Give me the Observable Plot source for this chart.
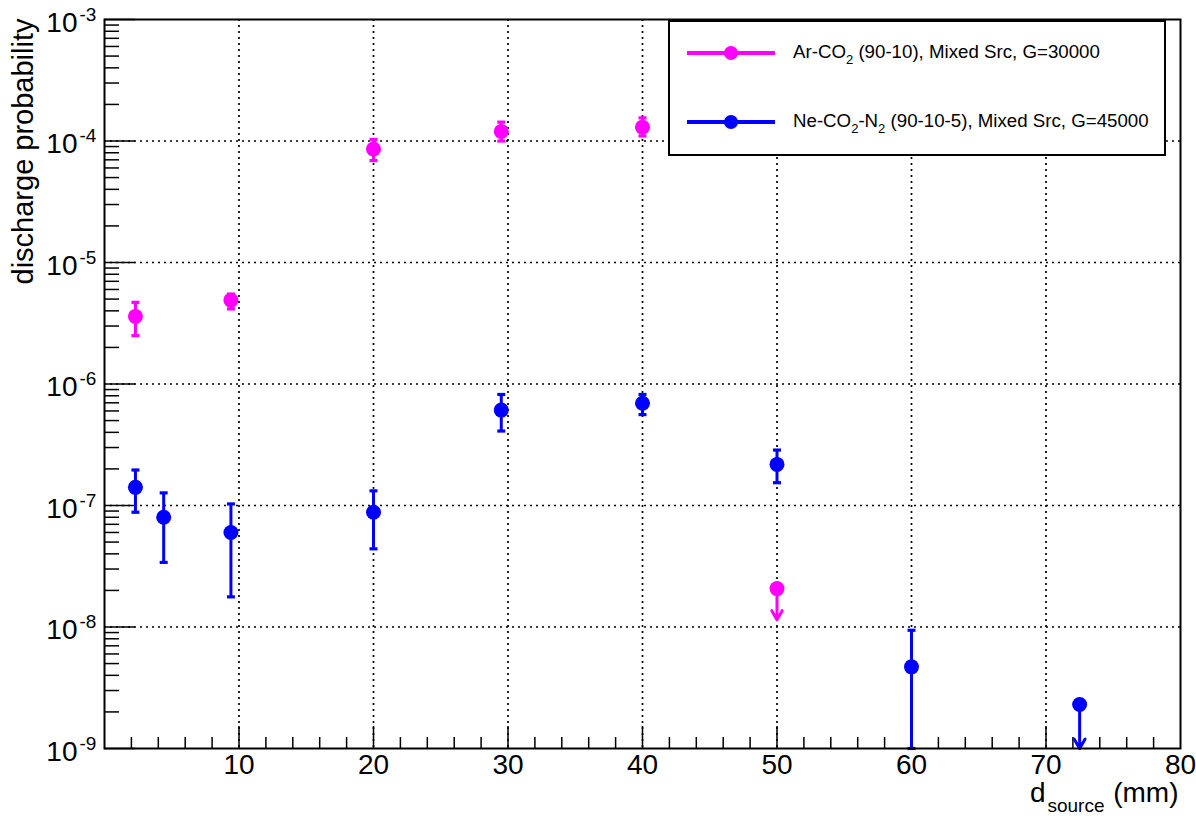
<!DOCTYPE html>
<html><head><meta charset="utf-8">
<script src="https://cdn.jsdelivr.net/npm/d3@7"></script>
<script src="https://cdn.jsdelivr.net/npm/@observablehq/plot@0.6"></script>
<style>
body{margin:0;background:#fff;font-family:"Liberation Sans",Arial,Helvetica,sans-serif;}
#wrap{position:relative;width:1196px;height:816px;}
.legend{position:absolute;left:668px;top:20px;width:498px;height:136px;box-sizing:border-box;border:2px solid #000;background:#fff;}
.lsym{position:absolute;}
.ltxt{position:absolute;font-size:18.7px;line-height:24px;white-space:nowrap;color:#000;}
.ltxt sub{font-size:13px;vertical-align:baseline;position:relative;top:6px;}
</style></head><body><div id="wrap"></div>
<script>
// ---- data ----
const seriesColors = ["#ff00ff", "#0000ff"];
const legendParts = [
  ["Ar-CO", "2", " (90-10), Mixed Src, G=30000"],
  ["Ne-CO", "2", "-N", "2", " (90-10-5), Mixed Src, G=45000"]
];
// Ar-CO2 series
const arX  = [2.3, 9.4, 20, 29.5, 40];
const arY  = [3.6e-6, 4.9e-6, 8.6e-5, 1.2e-4, 1.3e-4];
const arHi = [4.7e-6, 5.5e-6, 1.03e-4, 1.43e-4, 1.55e-4];
const arLo = [2.5e-6, 4.15e-6, 6.9e-5, 1.0e-4, 1.1e-4];
const arLimX = [50], arLimY = [2.07e-8], arLimTo = [1.15e-8];
// Ne-CO2-N2 series
const neX  = [2.3, 4.4, 9.4, 20, 29.5, 40, 50, 60];
const neY  = [1.41e-7, 8.0e-8, 6.0e-8, 8.8e-8, 6.1e-7, 6.95e-7, 2.18e-7, 4.7e-9];
const neHi = [1.96e-7, 1.27e-7, 1.03e-7, 1.32e-7, 8.2e-7, 8.2e-7, 2.86e-7, 9.4e-9];
const neLo = [8.8e-8, 3.4e-8, 1.77e-8, 4.4e-8, 4.1e-7, 5.6e-7, 1.54e-7, 1e-9];
const neLimX = [72.5], neLimY = [2.3e-9], neLimTo = [1e-9];
// axes
const xDomain = [0, 80];
const yDomain = [1e-9, 1e-3];
const xLabels = [10, 20, 30, 40, 50, 60, 70, 80];
const yExponents = [-9, -8, -7, -6, -5, -4, -3];
const yTitle = "discharge probability";
const xTitleParts = ["d", "source", "(mm)"];

// ---- build ----
const W = 1196, H = 816, mL = 104, mR = 16, mT = 19, mB = 68;
const fw = W - mL - mR, fh = H - mT - mB;
const font = '"Liberation Sans", Arial, Helvetica, sans-serif';

const pts = [], lims = [];
arX.forEach((x, i) => pts.push({s: 0, x, y: arY[i], lo: arLo[i], hi: arHi[i]}));
neX.forEach((x, i) => pts.push({s: 1, x, y: neY[i], lo: neLo[i], hi: neHi[i]}));
arLimX.forEach((x, i) => lims.push({s: 0, x, y: arLimY[i], to: arLimTo[i]}));
neLimX.forEach((x, i) => lims.push({s: 1, x, y: neLimY[i], to: neLimTo[i]}));
const col = d => seriesColors[d.s];

const decades = yExponents.map(e => Math.pow(10, e));
const gridY = decades.filter(v => v > yDomain[0] * 1.5 && v < yDomain[1] / 1.5);
const yMinor = [];
yExponents.slice(0, -1).forEach(e => { for (let k = 2; k <= 9; k++) yMinor.push(k * Math.pow(10, e)); });
const xMajor = xLabels.filter(v => v < xDomain[1]);
const xMinor = d3.range(2, xDomain[1], 2).filter(v => v % 10 !== 0);

const capSym = {draw(ctx) { ctx.moveTo(-4, -1.6); ctx.lineTo(4, -1.6); ctx.lineTo(4, 1.6); ctx.lineTo(-4, 1.6); ctx.closePath(); }};

const chart = Plot.plot({
  width: W, height: H,
  marginLeft: mL, marginRight: mR, marginTop: mT, marginBottom: mB,
  x: {domain: xDomain, axis: null},
  y: {type: "log", domain: yDomain, axis: null},
  color: {type: "identity"},
  style: {fontFamily: font, background: "white", overflow: "visible", color: "black"},
  marks: [
    Plot.ruleX(xMajor, {x: d => d, stroke: "#000", strokeWidth: 1.7, strokeDasharray: "2,4"}),
    Plot.ruleY(gridY, {y: d => d, stroke: "#000", strokeWidth: 1.7, strokeDasharray: "2,4"}),
    Plot.ruleX(xMinor, {x: d => d, insetTop: fh - 11, stroke: "#000", strokeWidth: 1.5}),
    Plot.ruleX(xMajor, {x: d => d, insetTop: fh - 22, stroke: "#000", strokeWidth: 1.5}),
    Plot.ruleY(yMinor, {y: d => d, insetRight: fw - 15, stroke: "#000", strokeWidth: 1.5}),
    Plot.ruleY(decades, {y: d => d, insetRight: fw - 31, stroke: "#000", strokeWidth: 1.5}),
    Plot.ruleX(pts, {x: "x", y1: "lo", y2: "hi", stroke: col, strokeWidth: 3}),
    Plot.dot(pts, {x: "x", y: "hi", symbol: capSym, r: 4, fill: col, stroke: null}),
    Plot.dot(pts, {x: "x", y: "lo", symbol: capSym, r: 4, fill: col, stroke: null}),
    Plot.arrow(lims, {x: "x", y1: "y", y2: "to", stroke: col, strokeWidth: 3, headLength: 5.5, headAngle: 60}),
    Plot.dot(pts.concat(lims), {x: "x", y: "y", r: 7.5, fill: col, stroke: null}),
    Plot.frame({stroke: "#000", strokeWidth: 2}),
    Plot.text(decades, {y: d => d, text: () => "10", frameAnchor: "left", textAnchor: "end", lineAnchor: "middle", dx: -27, dy: 3.5, fontSize: 28, fill: "#000"}),
    Plot.text(decades, {y: d => d, text: d => String(Math.round(Math.log10(d))), frameAnchor: "left", textAnchor: "start", lineAnchor: "middle", dx: -25, dy: -5, fontSize: 19, fill: "#000"}),
    Plot.text(xLabels, {x: d => d, text: d => String(d), frameAnchor: "bottom", lineAnchor: "middle", dy: 17, fontSize: 28, fill: "#000"}),
    Plot.text([yTitle], {text: d => d, frameAnchor: "top-left", rotate: -90, textAnchor: "end", lineAnchor: "middle", dx: -81, dy: -1, fontSize: 29, fill: "#000"}),
    Plot.text([xTitleParts[0]], {text: d => d, frameAnchor: "bottom-right", textAnchor: "end", lineAnchor: "middle", dx: -135, dy: 45, fontSize: 28, fill: "#000"}),
    Plot.text([xTitleParts[1]], {text: d => d, frameAnchor: "bottom-right", textAnchor: "end", lineAnchor: "middle", dx: -76, dy: 57, fontSize: 19, fill: "#000"}),
    Plot.text([xTitleParts[2]], {text: d => d, frameAnchor: "bottom-right", textAnchor: "end", lineAnchor: "middle", dx: -2, dy: 45, fontSize: 28, fill: "#000"})
  ]
});
const wrap = document.getElementById("wrap");
wrap.appendChild(chart);

// legend
const leg = document.createElement("div");
leg.className = "legend";
wrap.appendChild(leg);
const entryY = [53, 122];
legendParts.forEach((parts, i) => {
  const c = seriesColors[i];
  const svg = d3.create("svg").attr("class", "lsym").attr("width", 88).attr("height", 18)
    .style("left", "687px").style("top", (entryY[i] - 9) + "px");
  svg.append("line").attr("x1", 0).attr("x2", 88).attr("y1", 9).attr("y2", 9).attr("stroke", c).attr("stroke-width", 4);
  svg.append("circle").attr("cx", 44).attr("cy", 9).attr("r", 7).attr("fill", c);
  wrap.appendChild(svg.node());
  const t = document.createElement("div");
  t.className = "ltxt";
  t.style.left = "793px";
  t.style.top = (entryY[i] - 13) + "px";
  parts.forEach((p, j) => {
    if (j % 2 === 1) { const s = document.createElement("sub"); s.textContent = p; t.appendChild(s); }
    else t.appendChild(document.createTextNode(p));
  });
  wrap.appendChild(t);
});
</script></body></html>
